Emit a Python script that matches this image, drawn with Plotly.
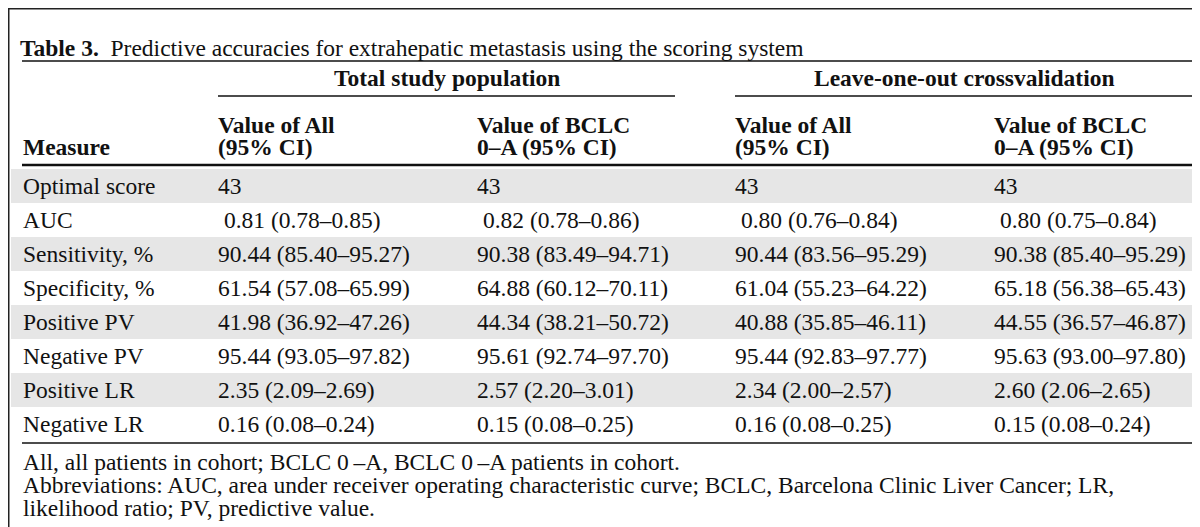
import plotly.graph_objects as go

# ---------------- data ----------------
title_bold = "Table 3."
title_rest = "Predictive accuracies for extrahepatic metastasis using the scoring system"
group_headers = ["Total study population", "Leave-one-out crossvalidation"]
col_headers = [
    ["Value of All", "(95% CI)"],
    ["Value of BCLC", "0–A (95% CI)"],
    ["Value of All", "(95% CI)"],
    ["Value of BCLC", "0–A (95% CI)"],
]
measure_header = "Measure"
measures = ["Optimal score", "AUC", "Sensitivity, %", "Specificity, %",
            "Positive PV", "Negative PV", "Positive LR", "Negative LR"]
total_all = ["43", "\u00a00.81 (0.78–0.85)", "90.44 (85.40–95.27)", "61.54 (57.08–65.99)",
             "41.98 (36.92–47.26)", "95.44 (93.05–97.82)", "2.35 (2.09–2.69)", "0.16 (0.08–0.24)"]
total_bclc = ["43", "\u00a00.82 (0.78–0.86)", "90.38 (83.49–94.71)", "64.88 (60.12–70.11)",
              "44.34 (38.21–50.72)", "95.61 (92.74–97.70)", "2.57 (2.20–3.01)", "0.15 (0.08–0.25)"]
loo_all = ["43", "\u00a00.80 (0.76–0.84)", "90.44 (83.56–95.29)", "61.04 (55.23–64.22)",
           "40.88 (35.85–46.11)", "95.44 (92.83–97.77)", "2.34 (2.00–2.57)", "0.16 (0.08–0.25)"]
loo_bclc = ["43", "\u00a00.80 (0.75–0.84)", "90.38 (85.40–95.29)", "65.18 (56.38–65.43)",
            "44.55 (36.57–46.87)", "95.63 (93.00–97.80)", "2.60 (2.06–2.65)", "0.15 (0.08–0.24)"]
footnotes = [
    "All, all patients in cohort; BCLC 0\u2009–A, BCLC 0\u2009–A patients in cohort.",
    "Abbreviations: AUC, area under receiver operating characteristic curve; BCLC, Barcelona Clinic Liver Cancer; LR,",
    "likelihood ratio; PV, predictive value.",
]

# ---------------- layout ----------------
W, H = 1200, 527
FONT = "Liberation Serif, Times New Roman, serif"
FS = 23.5
INK = "#111111"
SHADE = "#e6e6e6"

xl, xr = 14, 1185
col_x = [14, 209, 468, 726, 985]
row_top = 161
pitch = 34.0

fig = go.Figure()
shapes = []
ann = []

def text(x, y, s, size=FS, anchor="left"):
    ann.append(dict(x=x, y=y, xref="x", yref="y", text=s, showarrow=False,
                    xanchor=anchor, yanchor="middle", borderpad=0,
                    font=dict(family=FONT, size=size, color=INK)))

def hline(y, x0, x1, w=1.5):
    shapes.append(dict(type="line", xref="x", yref="y", x0=x0, x1=x1, y0=y, y1=y,
                       line=dict(color=INK, width=w)))

# title
text(11, 40, f"<b>{title_bold}</b>\u00a0\u00a0{title_rest}")
hline(53, xl, xr, 1.6)

# group headers
groups = [(col_x[1] + 1, 667), (col_x[3] + 1, xr)]
for (g0, g1), g in zip(groups, group_headers):
    text((g0 + g1) / 2, 70, f"<b>{g}</b>", anchor="center")
    hline(88, g0, g1, 1.6)

# column headers
for cx, (h1, h2) in zip(col_x[1:], col_headers):
    text(cx, 117, f"<b>{h1}</b>")
    text(cx, 139, f"<b>{h2}</b>")
text(col_x[0], 139, f"<b>{measure_header}</b>")
hline(157, xl, xr, 2.4)

# body
cols = [measures, total_all, total_bclc, loo_all, loo_bclc]
for i in range(len(measures)):
    y0 = row_top + i * pitch
    if i % 2 == 0:
        shapes.append(dict(type="rect", xref="x", yref="y", x0=3, x1=W - 3,
                           y0=y0, y1=y0 + pitch, fillcolor=SHADE, line=dict(width=0),
                           layer="below"))
    for cx, col in zip(col_x, cols):
        text(cx, y0 + pitch / 2, col[i])
hline(row_top + len(measures) * pitch + 2, xl, xr, 1.6)

# footnotes
fy = row_top + len(measures) * pitch + 21
for k, f in enumerate(footnotes):
    text(col_x[0], fy + k * 23, f)

# outer border
shapes.append(dict(type="rect", xref="paper", yref="paper", x0=0, x1=1, y0=0, y1=1,
                   line=dict(color="#222222", width=3)))

fig.update_layout(
    width=W, height=H, margin=dict(l=0, r=0, t=0, b=0),
    paper_bgcolor="white", plot_bgcolor="white",
    xaxis=dict(range=[0, W], visible=False, fixedrange=True),
    yaxis=dict(range=[H, 0], visible=False, fixedrange=True),
    shapes=shapes, annotations=ann, showlegend=False,
)
fig.write_html("out.html")
